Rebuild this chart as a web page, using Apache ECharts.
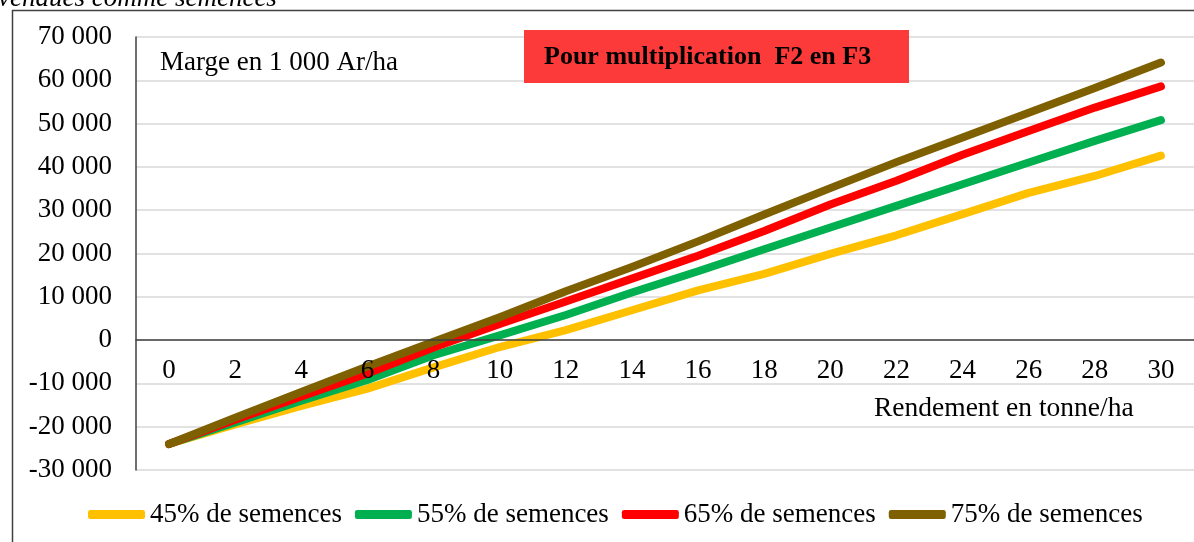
<!DOCTYPE html>
<html>
<head>
<meta charset="utf-8">
<script src="https://cdn.jsdelivr.net/npm/echarts@6/dist/echarts.min.js"></script>
<style>
  body { margin: 0; background: #fff; }
  #chart { width: 1194px; height: 542px; }
</style>
</head>
<body>
<div id="chart"></div>
<script>
  // rendement en tonne/ha
  var rendements = ['0', '2', '4', '6', '8', '10', '12', '14', '16', '18', '20', '22', '24', '26', '28', '30'];
  // marge en 1 000 Ar/ha
  var semences45 = [-24000, -19500, -15200, -11200, -6300, -1600, 2300, 6900, 11500, 15300, 19900, 24200, 29100, 34000, 37900, 42600];
  var semences55 = [-24000, -19000, -14000, -9200, -3500, 1100, 5800, 11000, 15900, 21000, 26000, 31000, 36000, 41000, 46000, 50800];
  var semences65 = [-24000, -18400, -13000, -7700, -1700, 3700, 8900, 14200, 19500, 25200, 31300, 36800, 42800, 48300, 53700, 58600];
  var semences75 = [-24000, -17900, -12000, -6100, -400, 5300, 11300, 16900, 22800, 29000, 35100, 41100, 46800, 52500, 58200, 64100];
  var noms = ['45% de semences', '55% de semences', '65% de semences', '75% de semences'];
  var couleurs = ['#FFC000', '#00B050', '#FF0000', '#7F6000'];

  var police = 'Liberation Serif';
  var myChart = echarts.init(document.getElementById('chart'));

  function serie(nom, data, couleur) {
    return {
      name: nom,
      type: 'line',
      data: data,
      symbol: 'none',
      z: 2,
      color: couleur,
      lineStyle: { width: 8, color: couleur, cap: 'round', join: 'round' }
    };
  }

  myChart.setOption({
    animation: false,
    textStyle: { fontFamily: police },
    grid: { left: 136, right: -15, top: 37, bottom: 72 },
    xAxis: {
      type: 'category',
      data: rendements,
      boundaryGap: true,
      z: 5,
      // l'axe est remonté sur la ligne du zéro (470 -> 340 px)
      offset: -130,
      axisLine: { onZero: false, lineStyle: { color: '#404040', width: 1.5 } },
      axisTick: { show: false },
      axisLabel: { color: '#000', fontSize: 27, fontFamily: police, margin: 17 },
      splitLine: { show: false }
    },
    yAxis: {
      type: 'value',
      min: -30000,
      max: 70000,
      interval: 10000,
      axisLine: { show: true, lineStyle: { color: '#404040', width: 1.5 } },
      axisTick: { show: false },
      axisLabel: {
        color: '#000', fontSize: 27, fontFamily: police, margin: 24,
        formatter: function (v) {
          var s = Math.abs(v).toString().replace(/\B(?=(\d{3})+(?!\d))/g, ' ');
          return (v < 0 ? '-' : '') + s;
        }
      },
      splitLine: { lineStyle: { color: '#D9D9D9', width: 1.5 } }
    },
    legend: {
      data: noms,
      left: 83,
      top: 496,
      icon: 'roundRect',
      itemWidth: 57,
      itemHeight: 9,
      itemGap: 13,
      textStyle: { color: '#000', fontSize: 27, fontFamily: police }
    },
    graphic: [
      // cadre du graphique
      { type: 'line', shape: { x1: 12.5, y1: 10, x2: 12.5, y2: 542 }, style: { stroke: '#404040', lineWidth: 1.5 } },
      { type: 'line', shape: { x1: 12, y1: 10.5, x2: 1194, y2: 10.5 }, style: { stroke: '#404040', lineWidth: 1.5 } },
      // reste du titre coupé en haut
      { type: 'text', left: -2, top: -15, style: { text: 'vendues comme semences', fontSize: 27, fontStyle: 'italic', fontFamily: police, fill: '#000' } },
      { type: 'text', left: 160, top: 49, style: { text: 'Marge en 1 000 Ar/ha', fontSize: 27, fontFamily: police, fill: '#000' } },
      {
        type: 'group', left: 524, top: 30, z: 100,
        children: [
          { type: 'rect', z: 100, shape: { x: 0, y: 0, width: 385, height: 53 }, style: { fill: '#FD3A3A' } },
          { type: 'text', z: 101, x: 20, y: 27, style: { text: 'Pour multiplication  F2 en F3', fontSize: 26, fontWeight: 'bold', fontFamily: police, fill: '#000', verticalAlign: 'middle' } }
        ]
      },
      { type: 'text', left: 874, top: 395, style: { text: 'Rendement en tonne/ha', fontSize: 27.5, fontFamily: police, fill: '#000' } }
    ],
    series: [
      serie(noms[0], semences45, couleurs[0]),
      serie(noms[1], semences55, couleurs[1]),
      serie(noms[2], semences65, couleurs[2]),
      serie(noms[3], semences75, couleurs[3])
    ]
  });
</script>
</body>
</html>
